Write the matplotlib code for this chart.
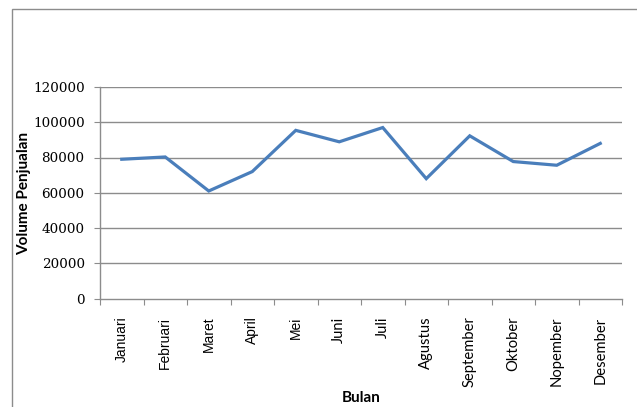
import matplotlib
matplotlib.use("Agg")
import matplotlib.pyplot as plt
from matplotlib.patches import Rectangle

months = ["Januari", "Februari", "Maret", "April", "Mei", "Juni", "Juli",
          "Agustus", "September", "Oktober", "Nopember", "Desember"]
volume = [79000, 80300, 61000, 72000, 95400, 88900, 97000,
          68000, 92300, 77700, 75600, 88000]
yticks = [0, 20000, 40000, 60000, 80000, 100000, 120000]

W, H = 637, 407
fig = plt.figure(figsize=(W / 100, H / 100), dpi=100)
fig.patch.set_facecolor("white")

# outer chart border
fig.patches.append(Rectangle((11.5 / W, -0.05), 1.2, 1 - 9 / H + 0.05,
                             transform=fig.transFigure, fill=False,
                             edgecolor="#8c8c8c", linewidth=1.0))

left, right = 100 / W, 622 / W
bottom, top = (H - 298.5) / H, (H - 87) / H
ax = fig.add_axes([left, bottom, right - left, top - bottom])

x = list(range(len(months)))
ax.plot(x, volume, color="#4a7ebb", linewidth=2.3, solid_joinstyle="miter")

ax.set_xlim(-0.5, len(months) - 0.5)
ax.set_ylim(0, 120000)
ax.set_yticks(yticks)
ax.set_yticklabels([str(v) for v in yticks], family="DejaVu Serif", fontsize=9.7)
for v in yticks[1:]:
    ax.axhline(v, color="#8c8c8c", linewidth=1.0, zorder=0)

ax.set_xticks([i + 0.5 for i in range(-1, len(months))], minor=False)
ax.set_xticklabels([])
ax.set_xticks(x, minor=True)
ax.set_xticklabels(months, minor=True, rotation=90, fontsize=10, va="top")
for i, lab in enumerate(ax.get_xticklabels(minor=True)):
    if i < 5:
        lab.set_family("Liberation Sans")
    else:
        lab.set_family("Lato")
        lab.set_fontsize(10.6)
ax.tick_params(axis="x", which="minor", length=0, pad=13)
ax.tick_params(axis="x", which="major", length=4.5, color="#8c8c8c", direction="out")
ax.tick_params(axis="y", length=4, color="#8c8c8c", pad=7, direction="out")

for s in ["top", "right"]:
    ax.spines[s].set_visible(False)
for s in ["left", "bottom"]:
    ax.spines[s].set_color("#8c8c8c")
    ax.spines[s].set_linewidth(1.0)

fig.text(361.5 / W, 1 - 398 / H, "Bulan", family="Lato", fontweight="bold",
         fontsize=11, ha="center", va="center")
fig.text(24 / W, 1 - 193 / H, "Volume Penjualan", family="Lato", fontweight="bold",
         fontsize=11, ha="center", va="center", rotation=90)

fig.savefig("out.png", dpi=100)
